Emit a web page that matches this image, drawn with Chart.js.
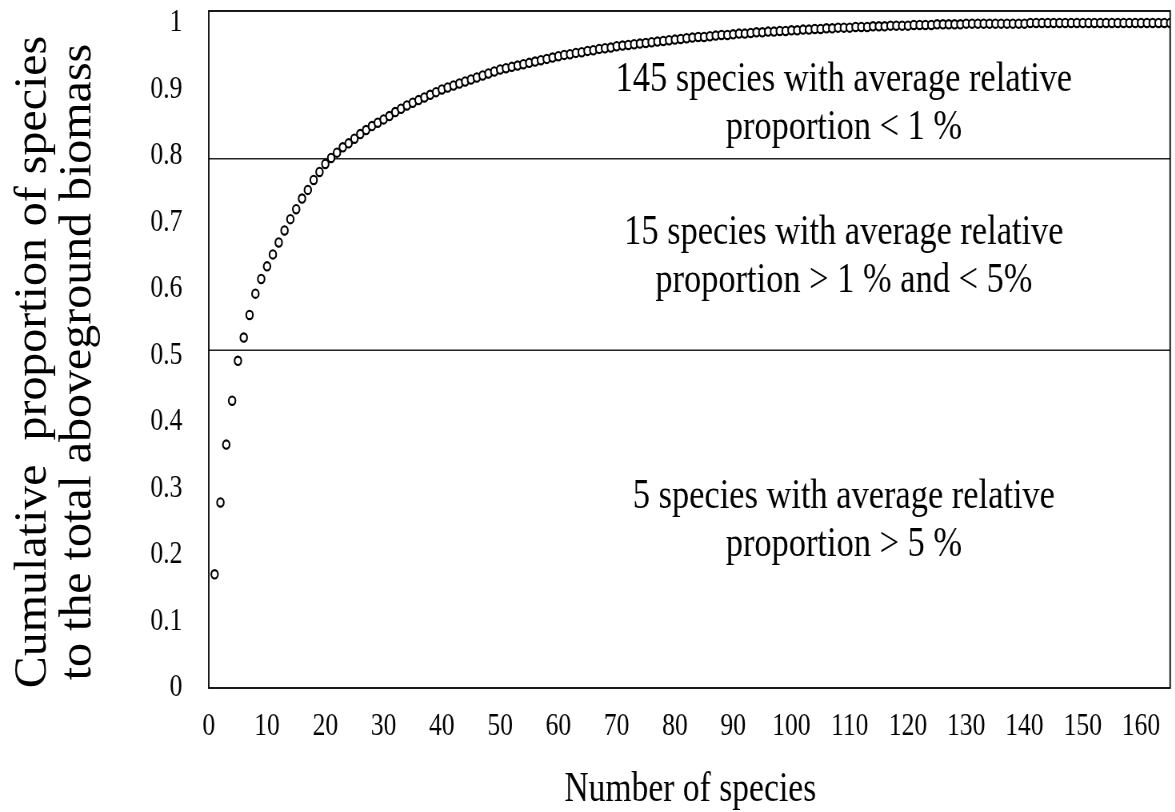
<!DOCTYPE html>
<html><head><meta charset="utf-8">
<script src="https://cdn.jsdelivr.net/npm/chart.js@4/dist/chart.umd.min.js"></script>
<style>
html,body{margin:0;padding:0;background:#fff;overflow:hidden;width:1175px;height:812px}
#wrap{position:absolute;left:0;top:0;width:1469px;height:812px;transform:scaleX(0.8);transform-origin:0 0}
</style>
</head><body><div id="wrap"><canvas id="c"></canvas></div>
<script>
// Cumulative proportion of each ranked species (species 1..165)
const cumulativeProportion = [
0.171,0.279,0.366,0.432,0.492,0.527,0.561,0.593,0.615,0.634,
0.652,0.670,0.688,0.705,0.720,0.736,0.749,0.764,0.776,0.788,
0.797,0.805,0.813,0.819,0.826,0.833,0.839,0.845,0.850,0.855,
0.860,0.866,0.871,0.876,0.880,0.884,0.888,0.892,0.896,0.900,
0.903,0.906,0.909,0.912,0.915,0.918,0.921,0.924,0.927,0.930,
0.932,0.934,0.936,0.938,0.940,0.942,0.944,0.946,0.948,0.950,
0.952,0.953,0.955,0.956,0.958,0.959,0.961,0.962,0.963,0.965,
0.966,0.967,0.968,0.969,0.970,0.971,0.972,0.973,0.974,0.975,
0.976,0.977,0.978,0.979,0.979,0.980,0.981,0.982,0.982,0.983,
0.984,0.984,0.985,0.986,0.986,0.987,0.987,0.988,0.988,0.989,
0.989,0.990,0.990,0.991,0.991,0.992,0.992,0.993,0.993,0.993,
0.994,0.994,0.994,0.995,0.995,0.995,0.996,0.996,0.996,0.996,
0.997,0.997,0.997,0.997,0.998,0.998,0.998,0.998,0.998,0.999,
0.999,0.999,0.999,0.999,0.999,0.999,0.999,0.999,0.999,0.999,
1.000,1.000,1.000,1.000,1.000,1.000,1.000,1.000,1.000,1.000,
1.000,1.000,1.000,1.000,1.000,1.000,1.000,1.000,1.000,1.000,
1.000,1.000,1.000,1.000,1.000
];
const xTickValues = [0,10,20,30,40,50,60,70,80,90,100,110,120,130,140,150,160];
const yTickValues = [0,0.1,0.2,0.3,0.4,0.5,0.6,0.7,0.8,0.9,1];
const thresholdLines = [0.796, 0.508];
const groupText = [
  ["145 species with average relative", "proportion < 1 %"],
  ["15 species with average relative", "proportion > 1 % and < 5%"],
  ["5 species with average relative", "proportion > 5 %"]
];
const groupTextY = [0.878, 0.648, 0.251];
const groupTextX = 109;
const xTitle = "Number of species";
const yTitle = ["Cumulative  proportion of species", "to the total aboveground biomass"];

const SQUEEZE = 0.8;
const X_MAX = 165, Y_MAX = 1.018;
const FONT = "'Liberation Serif', 'Times New Roman', serif";

const points = cumulativeProportion.map((v, i) => ({x: i + 1, y: v}));

const decor = {
  id: 'decor',
  afterDraw(chart) {
    const ctx = chart.ctx, a = chart.chartArea;
    const xs = chart.scales.x, ys = chart.scales.y;
    ctx.save();
    ctx.strokeStyle = '#000'; ctx.lineWidth = 1.8;
    ctx.strokeRect(a.left, a.top, a.right - a.left, a.bottom - a.top);
    ctx.fillStyle = '#000';
    ctx.textAlign = 'center'; ctx.textBaseline = 'middle';
    ctx.font = "43px " + FONT;
    groupText.forEach((lines, k) => {
      const cx = xs.getPixelForValue(groupTextX);
      const cy = ys.getPixelForValue(groupTextY[k]);
      ctx.fillText(lines[0], cx, cy - 24);
      ctx.fillText(lines[1], cx, cy + 24);
    });
    ctx.font = "42px " + FONT;
    ctx.fillText(xTitle, (a.left + a.right) / 2 + 1, 790);
    ctx.font = "47px " + FONT;
    [[42, yTitle[0]], [98, yTitle[1]]].forEach(([px, txt]) => {
      ctx.save();
      ctx.translate(px, 362);
      ctx.scale(1 / SQUEEZE, 1);
      ctx.rotate(-Math.PI / 2);
      ctx.scale(1.02, 0.96);
      ctx.fillText(txt, 0, 0);
      ctx.restore();
    });
    ctx.restore();
  }
};

new Chart(document.getElementById('c'), {
  type: 'scatter',
  data: {
    datasets: [
      {
        data: points,
        pointStyle: 'circle', pointRadius: 4.2, pointHoverRadius: 4.2,
        borderColor: '#000', backgroundColor: '#fff', borderWidth: 2.1
      },
      ...thresholdLines.map(t => ({
        type: 'line',
        data: [{x: 0, y: t}, {x: X_MAX, y: t}],
        borderColor: '#222', borderWidth: 1.5, pointRadius: 0, fill: false
      }))
    ]
  },
  options: {
    responsive: true, maintainAspectRatio: false, animation: false,
    devicePixelRatio: 1,
    layout: {padding: {left: 0, right: 1, top: 11, bottom: 0}},
    plugins: {legend: {display: false}, tooltip: {enabled: false}},
    scales: {
      x: {
        type: 'linear', min: 0, max: X_MAX,
        afterBuildTicks: s => { s.ticks = xTickValues.map(v => ({value: v})); },
        afterFit: s => { s.height = 124; s.paddingLeft = 0; s.paddingRight = 0; },
        grid: {display: false, drawTicks: false},
        border: {display: false},
        ticks: {color: '#000', font: {family: FONT, size: 32}, padding: 19, maxRotation: 0, autoSkip: false,
                callback: v => String(v)}
      },
      y: {
        type: 'linear', min: 0, max: Y_MAX,
        afterBuildTicks: s => { s.ticks = yTickValues.map(v => ({value: v})); },
        afterFit: s => { s.width = 261; s.paddingTop = 0; s.paddingBottom = 0; },
        grid: {display: false, drawTicks: false},
        border: {display: false},
        ticks: {color: '#000', font: {family: FONT, size: 32}, padding: 33, autoSkip: false,
                callback: v => String(v)}
      }
    }
  },
  plugins: [decor]
});
</script></body></html>
